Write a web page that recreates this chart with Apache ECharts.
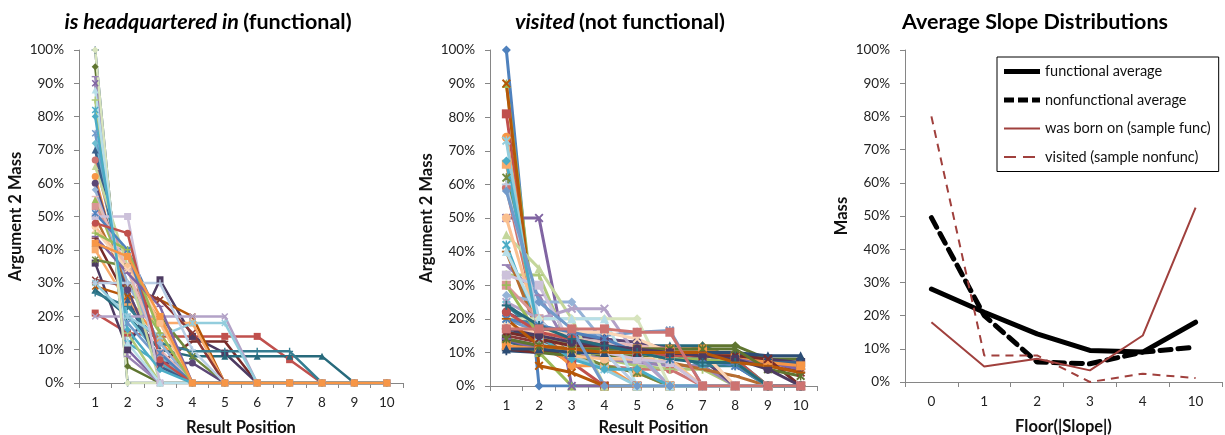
<!DOCTYPE html>
<html>
<head>
<meta charset="utf-8">
<script src="https://cdn.jsdelivr.net/npm/echarts@6/dist/echarts.min.js"></script>
<style>html,body{margin:0;padding:0;background:#fff}#c{width:1225px;height:435px}</style>
</head>
<body>
<div id="c"></div>
<script>
// ---------- data ----------
const positions = ['1','2','3','4','5','6','7','8','9','10'];
const slopeBins = ['0','1','2','3','4','10'];

// "is headquartered in" : argument-2 mass per result position (%)
const hqSeries = [
  [41,40,19,0,0,0,0,0,0,0],
  [21,15,14,14,14,14,7,0,0,0],
  [55,30,15,0,0,0,0,0,0,0],
  [90,10,0,0,0,0,0,0,0,0],
  [82,12,6,0,0,0,0,0,0,0],
  [62,25,13,0,0,0,0,0,0,0],
  [100,0,0,0,0,0,0,0,0,0],
  [43.5,25,6,12.5,12.5,0,0,0,0,0],
  [95,5,0,0,0,0,0,0,0,0],
  [36,10,31,14,9,0,0,0,0,0],
  [28,20,10,8,8,8,8,8,0,0],
  [29,26,25,20,0,0,0,0,0,0],
  [75,18,7,0,0,0,0,0,0,0],
  [67,28,5,0,0,0,0,0,0,0],
  [85,15,0,0,0,0,0,0,0,0],
  [92,8,0,0,0,0,0,0,0,0],
  [72,20,8,0,0,0,0,0,0,0],
  [40,24,18,18,0,0,0,0,0,0],
  [70,25,5,0,0,0,0,0,0,0],
  [31,29,25,15,0,0,0,0,0,0],
  [37,35,20,8,0,0,0,0,0,0],
  [60,28,6,6,0,0,0,0,0,0],
  [27,23,12,9.5,9.5,9.5,9.5,0,0,0],
  [50,30,20,0,0,0,0,0,0,0],
  [58,30,12,0,0,0,0,0,0,0],
  [53,38,9,0,0,0,0,0,0,0],
  [65,35,0,0,0,0,0,0,0,0],
  [20,20,20,20,20,0,0,0,0,0],
  [30,20,14,18,18,0,0,0,0,0],
  [47,35,18,0,0,0,0,0,0,0],
  [30,30,30,10,0,0,0,0,0,0],
  [56,34,10,0,0,0,0,0,0,0],
  [100,0,0,0,0,0,0,0,0,0],
  [50,50,0,0,0,0,0,0,0,0],
  [88,12,0,0,0,0,0,0,0,0],
  [46,34,20,0,0,0,0,0,0,0],
  [51,40,9,0,0,0,0,0,0,0],
  [48,45,7,0,0,0,0,0,0,0],
  [45,40,15,0,0,0,0,0,0,0],
  [44,33,23,0,0,0,0,0,0,0],
  [80,16,4,0,0,0,0,0,0,0],
  [42,38,20,0,0,0,0,0,0,0]
];

// "visited" : argument-2 mass per result position (%)
const visitedSeries = [
  [100,0,0,0,0,0,0,0,0,0],
  [81,12,7,0,0,0,0,0,0,0],
  [90,10,0,0,0,0,0,0,0,0],
  [50,50,0,0,0,0,0,0,0,0],
  [42,16,12,10,8,6,6,0,0,0],
  [74,14,6,6,0,0,0,0,0,0],
  [10.5,10,10,10,10,10,10,10,8,5],
  [11,10,10,10,10,10,10,8,8,4],
  [13.5,10,9,9,9,9,12,12,8,8],
  [14,12,11,10,10,10,10,8,8,7],
  [16,15,13,12,12,12,12,8,0,0],
  [90,6,4,0,0,0,0,0,0,0],
  [20,16,16,15,16,16.5,0,0,0,0],
  [59,16,9,6,5,5,0,0,0,0],
  [33,33,10,8,6,5,5,0,0,0],
  [36,27,10,8,7,6,6,0,0,0],
  [25,15,12,12,10,10,8,8,0,0],
  [66,14,10,6,4,0,0,0,0,0],
  [13,12,11,11,11,10,10,8,7,7],
  [15,13,12,11,11,10,10,8,6,4],
  [62,18,10,6,4,0,0,0,0,0],
  [22,17,15,14,13,11,8,0,0,0],
  [24,16,14,13,11,10,6,6,0,0],
  [40,15,12,10,8,7,5,3,0,0],
  [27,25,25,13,10,0,0,0,0,0],
  [30,20,10,10,10,10,10,0,0,0],
  [45,35,20,0,0,0,0,0,0,0],
  [25,20,23,23,9,0,0,0,0,0],
  [73,13,9,5,0,0,0,0,0,0],
  [50,17,9,8,8,8,0,0,0,0],
  [60,20,10,10,0,0,0,0,0,0],
  [17,16,14,13,12,11,10,7,0,0],
  [20,20,20,20,20,0,0,0,0,0],
  [33,30,12,10,8,7,0,0,0,0],
  [40,20,20,20,0,0,0,0,0,0],
  [18,16,16,16,14,10,10,0,0,0],
  [20,18,16,14,10,8,8,6,0,0],
  [22,16,14,12,10,9,9,8,0,0],
  [30,15,12,10,10,8,8,7,0,0],
  [14,11,11,11,11,11,11,8,7,5],
  [67,15,8,5,5,0,0,0,0,0],
  [12,11,11,11,11,11,11,9,7,6],
  [11,11,10,10,10,10,10,10,9,9],
  [16,14,12,12,10,10,9,9,8,0],
  [14,12,11,11,11,11,11,11,5,3],
  [17,15,13,12,11,10,9,8,5,0],
  [24,18,14,12,10,8,7,7,0,0],
  [20,12,11,10,10,10,10,7,6,4],
  [58,25,17,0,0,0,0,0,0,0],
  [17,17,17,17,16,16,0,0,0,0]
];

// Average slope distributions (%)
const functionalAvg    = [28, 21, 14.5, 9.5, 9, 18];
const nonfunctionalAvg = [49.5, 20, 6, 5.5, 9, 10.5];
const bornOnSample     = [18, 4.7, 7, 3.5, 14, 52.5];
const visitedSample    = [80, 8, 8, 0, 2.5, 1.2];

// ---------- styling ----------
const palette = ['#4F81BD','#C0504D','#9BBB59','#8064A2','#4BACC6','#F79646',
  '#2C4D75','#772C2A','#5F7530','#4D3B62','#276A7C','#B65708',
  '#729ACA','#CD7371','#AFC97A','#9983B5','#6FBDD1','#F9AB6B',
  '#3A5F8B','#8C3836','#71893F','#5C4776','#357D91','#B66D31',
  '#95B3D7','#D99694','#C3D69B','#B3A2C7','#93CDDD','#FAC090',
  '#B9CDE5','#E6B9B8','#D7E4BD','#CCC1DA','#B7DEE8','#FCD5B5'];
const SYM_X = 'path://M0,1.5L1.5,0L5,3.5L8.5,0L10,1.5L6.5,5L10,8.5L8.5,10L5,6.5L1.5,10L0,8.5L3.5,5Z';
const SYM_STAR = 'path://M0,1.5L1.5,0L5,3.5L8.5,0L10,1.5L6.5,5L10,8.5L8.5,10L5,6.5L1.5,10L0,8.5L3.5,5Z M4.2,0H5.8V10H4.2Z';
const SYM_PLUS = 'path://M4,0H6V4H10V6H6V10H4V6H0V4H4Z';
const SYM_DASH = 'path://M0,4H10V6H0Z';
const markers = ['diamond','rect','triangle',SYM_X,SYM_STAR,'circle',SYM_PLUS,SYM_DASH];

const FONT = 'Lato';
const axisColor = '#868686';

function xAxisFor(grid, data, name, gap) {
  return {
    type: 'category', gridIndex: grid, data: data, boundaryGap: true,
    axisLine: { show: true, lineStyle: { color: axisColor, width: 1 } },
    axisTick: { show: true, length: 5, lineStyle: { color: axisColor } },
    axisLabel: { color: '#222', fontSize: 13.5, fontFamily: FONT, margin: 13 },
    splitLine: { show: false },
    name: name, nameLocation: 'middle', nameGap: gap,
    nameTextStyle: { color: '#111', fontSize: 16.5, fontWeight: 'bold', fontFamily: FONT }
  };
}
function yAxisFor(grid, name) {
  return {
    type: 'value', gridIndex: grid, min: 0, max: 100, interval: 10,
    axisLine: { show: true, lineStyle: { color: axisColor, width: 1 } },
    axisTick: { show: true, length: 5, lineStyle: { color: axisColor } },
    axisLabel: { color: '#222', fontSize: 13.5, fontFamily: FONT, margin: 15, formatter: '{value}%' },
    splitLine: { show: false },
    name: name, nameLocation: 'middle', nameGap: 55, nameRotate: 90,
    nameTextStyle: { color: '#111', fontSize: 16.5, fontWeight: 'bold', fontFamily: FONT }
  };
}
function spaghetti(list, axisIdx, size, width) {
  return list.map((vals, i) => ({
    type: 'line', xAxisIndex: axisIdx, yAxisIndex: axisIdx, data: vals,
    symbol: markers[i % markers.length], symbolSize: size, symbolKeepAspect: true,
    showAllSymbol: true, silent: true, animation: false,
    lineStyle: { width: width, color: palette[i % palette.length] },
    itemStyle: { color: palette[i % palette.length] }
  }));
}

const series = [].concat(
  spaghetti(hqSeries, 0, 7, 2.5),
  spaghetti(visitedSeries, 1, 9, 3),
  [
    { name: 'functional average', type: 'line', xAxisIndex: 2, yAxisIndex: 2, data: functionalAvg,
      symbol: 'none', animation: false, lineStyle: { color: '#000', width: 5, cap: 'round' }, itemStyle: { color: '#000' } },
    { name: 'nonfunctional average', type: 'line', xAxisIndex: 2, yAxisIndex: 2, data: nonfunctionalAvg,
      symbol: 'none', animation: false, lineStyle: { color: '#000', width: 5, type: [11, 7], cap: 'round' }, itemStyle: { color: '#000' } },
    { name: 'was born on (sample func)', type: 'line', xAxisIndex: 2, yAxisIndex: 2, data: bornOnSample,
      symbol: 'none', animation: false, lineStyle: { color: '#A0403D', width: 2 }, itemStyle: { color: '#A0403D' } },
    { name: 'visited (sample nonfunc)', type: 'line', xAxisIndex: 2, yAxisIndex: 2, data: visitedSample,
      symbol: 'none', animation: false, lineStyle: { color: '#A0403D', width: 2, type: [8, 6] }, itemStyle: { color: '#A0403D' } }
  ]
);

const titleRich = {
  i: { fontStyle: 'italic', fontWeight: 'bold', fontSize: 21.5, fontFamily: FONT, color: '#000' },
  b: { fontWeight: 'bold', fontSize: 21.5, fontFamily: FONT, color: '#000' }
};
const legendText = { fontSize: 14.5, fontFamily: FONT, color: '#111' };

const option = {
  backgroundColor: '#fff',
  animation: false,
  textStyle: { fontFamily: FONT },
  title: [
    { text: '{i|is headquartered in} {b|(functional)}', left: 203, top: 6, textAlign: 'center', textStyle: { rich: titleRich } },
    { text: '{i|visited} {b|(not functional)}', left: 615, top: 6, textAlign: 'center', textStyle: { rich: titleRich } },
    { text: '{b|Average Slope Distributions}', left: 1030, top: 6, textAlign: 'center', textStyle: { rich: titleRich } }
  ],
  grid: [
    { left: 79, right: 822, top: 50, bottom: 52, containLabel: false, outerBoundsMode: 'none' },
    { left: 490, right: 408, top: 50, bottom: 49, containLabel: false, outerBoundsMode: 'none' },
    { left: 905, right: 3, top: 50, bottom: 53, containLabel: false, outerBoundsMode: 'none' }
  ],
  xAxis: [
    xAxisFor(0, positions, 'Result Position', 36),
    xAxisFor(1, positions, 'Result Position', 33),
    xAxisFor(2, slopeBins, 'Floor(|Slope|)', 36)
  ],
  yAxis: [
    yAxisFor(0, 'Argument 2 Mass'),
    yAxisFor(1, 'Argument 2 Mass'),
    yAxisFor(2, 'Mass')
  ],
  legend: {
    orient: 'vertical', left: 997, top: 57,
    itemWidth: 36, itemHeight: 14, itemGap: 13.5,
    padding: [7, 8, 7, 7],
    borderColor: '#000', borderWidth: 1, borderRadius: 0, backgroundColor: '#fff',
    textStyle: legendText,
    selectedMode: false,
    data: [
      { name: 'functional average', icon: 'path://M0,0H36V5H0Z', textStyle: legendText },
      { name: 'nonfunctional average', icon: 'path://M0,0H10V5H0Z M14,0H24V5H14Z M28,0H36V5H28Z', textStyle: legendText },
      { name: 'was born on (sample func)', icon: 'path://M0,0H36V2H0Z', textStyle: legendText },
      { name: 'visited (sample nonfunc)', icon: 'path://M0,0H12V2H0Z M19,0H31V2H19Z M36,0H36.01V2H36Z', textStyle: legendText }
    ]
  },
  series: series
};

const chart = echarts.init(document.getElementById('c'), null, { renderer: 'canvas' });
chart.setOption(option);
</script>
</body>
</html>
